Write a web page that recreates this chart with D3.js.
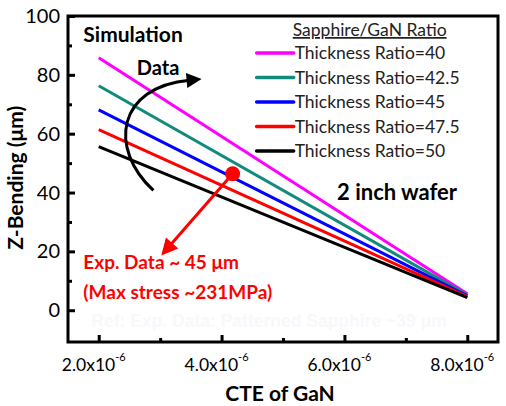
<!DOCTYPE html>
<html>
<head>
<meta charset="utf-8">
<script src="https://cdn.jsdelivr.net/npm/d3@7"></script>
<style>
  body { margin: 0; background: #fff; }
  text { font-family: Lato, "Noto Sans", sans-serif; }
</style>
</head>
<body>
<div id="wrapper"></div>
<script>
// data
const ratios = ["Thickness Ratio=40", "Thickness Ratio=42.5", "Thickness Ratio=45", "Thickness Ratio=47.5", "Thickness Ratio=50"]
const colors = ["#ff00ff", "#138a7e", "#0000ff", "#ff0000", "#000000"]
const cteValues = [2e-6, 8e-6]
const bendStart = [85.8, 76.3, 68.1, 61.4, 55.6]
const bendEnd = [5.6, 5.2, 4.9, 4.6, 4.3]
const xTicks = [2e-6, 4e-6, 6e-6, 8e-6]
const xTickLabels = ["2.0x10", "4.0x10", "6.0x10", "8.0x10"]
const yTicks = [0, 20, 40, 60, 80, 100]
const expPoint = { x: 4.18e-6, y: 46.4 }

const series = ratios.map((name, i) => ({
  name,
  color: colors[i],
  values: cteValues.map((x, j) => ({ x, y: j === 0 ? bendStart[i] : bendEnd[i] }))
}))

// dimensions
const dimensions = {
  width: 506,
  height: 406,
  margin: { top: 16, right: 8, bottom: 64, left: 68 }
}
dimensions.boundedWidth = dimensions.width - dimensions.margin.left - dimensions.margin.right
dimensions.boundedHeight = dimensions.height - dimensions.margin.top - dimensions.margin.bottom

const svg = d3.select("#wrapper").append("svg")
  .attr("width", dimensions.width)
  .attr("height", dimensions.height)

const bounds = svg.append("g")
  .attr("transform", `translate(${dimensions.margin.left},${dimensions.margin.top})`)

// scales
const xScale = d3.scaleLinear()
  .domain([1.5e-6, 8.5e-6])
  .range([0, dimensions.boundedWidth])
const yScale = d3.scaleLinear()
  .domain([-10.8, 100])
  .range([dimensions.boundedHeight, 0])

// faint reference text
bounds.append("text")
  .attr("x", xScale(1.88e-6))
  .attr("y", yScale(-5.8))
  .attr("fill", "#f7f8fb")
  .attr("font-size", 17.5)
  .attr("font-weight", "bold")
  .style("font-family", "Liberation Sans, Arial, sans-serif")
  .text("Ref: Exp. Data: Patterned Sapphire ~39 μm")

// lines
const line = d3.line().x(d => xScale(d.x)).y(d => yScale(d.y))
bounds.selectAll(".series")
  .data(series)
  .join("path")
  .attr("class", "series")
  .attr("d", d => line(d.values))
  .attr("fill", "none")
  .attr("stroke", d => d.color)
  .attr("stroke-width", 3)

// axes with inward ticks
const xAxis = d3.axisBottom(xScale)
  .tickValues(d3.range(2e-6, 8.5e-6, 1e-6))
  .tickSize(-6)
  .tickFormat("")
const xg = bounds.append("g")
  .attr("transform", `translate(0,${dimensions.boundedHeight})`)
  .call(xAxis)
xg.selectAll(".tick line")
  .attr("stroke-width", 3)
  .attr("y2", (d, i) => i % 2 === 0 ? -7 : -4)
xg.select(".domain").remove()

const yAxis = d3.axisLeft(yScale)
  .tickValues(d3.range(0, 101, 10))
  .tickSize(-6)
  .tickFormat("")
const yg = bounds.append("g").call(yAxis)
yg.selectAll(".tick line")
  .attr("stroke-width", 3)
  .attr("x2", (d, i) => i % 2 === 0 ? 7 : 4)
yg.select(".domain").remove()

// frame
bounds.append("rect")
  .attr("width", dimensions.boundedWidth)
  .attr("height", dimensions.boundedHeight)
  .attr("fill", "none")
  .attr("stroke", "#000")
  .attr("stroke-width", 3)

// tick labels
bounds.selectAll(".ylab")
  .data(yTicks)
  .join("text")
  .attr("class", "ylab")
  .attr("x", -8)
  .attr("y", d => yScale(d))
  .attr("dy", "0.35em")
  .attr("text-anchor", "end")
  .attr("font-size", 20)
  .text(d => d)

const xl = bounds.selectAll(".xlab")
  .data(xTicks)
  .join("text")
  .attr("class", "xlab")
  .attr("x", d => xScale(d) - 5)
  .attr("y", dimensions.boundedHeight + 29)
  .attr("text-anchor", "middle")
  .attr("font-size", 17.5)
xl.append("tspan").text((d, i) => xTickLabels[i])
xl.append("tspan")
  .attr("dy", -10)
  .attr("font-size", 11)
  .text("-6")

// axis titles
bounds.append("text")
  .attr("x", dimensions.boundedWidth / 2 - 3)
  .attr("y", dimensions.boundedHeight + 59)
  .attr("text-anchor", "middle")
  .attr("font-size", 21)
  .attr("font-weight", "bold")
  .text("CTE of GaN")

bounds.append("text")
  .attr("transform", `translate(-45,${yScale(45)}) rotate(-90)`)
  .attr("text-anchor", "middle")
  .attr("font-size", 21)
  .attr("font-weight", "bold")
  .text("Z-Bending (μm)")

// legend
const legend = bounds.append("g")
  .attr("transform", `translate(${xScale(4.62e-6)},0)`)
legend.append("text")
  .attr("x", 110)
  .attr("y", 20)
  .attr("text-anchor", "middle")
  .attr("font-size", 17.5)
  .attr("fill", "#222")
  .attr("text-decoration", "underline")
  .text("Sapphire/GaN Ratio")
const items = legend.selectAll(".item")
  .data(series)
  .join("g")
  .attr("class", "item")
  .attr("transform", (d, i) => `translate(0,${37 + i * 24.5})`)
items.append("line")
  .attr("x1", -3).attr("x2", 34)
  .attr("stroke", d => d.color)
  .attr("stroke-width", 3.5)
  .attr("stroke-linecap", "round")
items.append("text")
  .attr("x", 35)
  .attr("dy", "0.35em")
  .attr("font-size", 17.5)
  .attr("fill", "#222")
  .text(d => d.name)

// annotations
bounds.append("text")
  .attr("x", xScale(1.75e-6))
  .attr("y", yScale(91))
  .attr("font-size", 21)
  .attr("font-weight", "bold")
  .text("Simulation")
bounds.append("text")
  .attr("x", xScale(2.62e-6))
  .attr("y", yScale(80))
  .attr("font-size", 20)
  .attr("font-weight", "bold")
  .text("Data")
bounds.append("text")
  .attr("x", xScale(5.88e-6))
  .attr("y", yScale(37.5))
  .attr("font-size", 22)
  .attr("font-weight", "bold")
  .text("2 inch wafer")

bounds.append("text")
  .attr("x", xScale(1.75e-6))
  .attr("y", yScale(14))
  .attr("font-size", 19)
  .attr("font-weight", "bold")
  .attr("fill", "#ff0000")
  .text("Exp. Data ~ 45 μm")
bounds.append("text")
  .attr("x", xScale(1.75e-6))
  .attr("y", yScale(3.8))
  .attr("font-size", 19)
  .attr("font-weight", "bold")
  .attr("fill", "#ff0000")
  .text("(Max stress ~231MPa)")

// arrow markers
const defs = svg.append("defs")
defs.append("marker")
  .attr("id", "headBlack")
  .attr("viewBox", "0 -5 10 10")
  .attr("refX", 2).attr("refY", 0)
  .attr("markerWidth", 6).attr("markerHeight", 5)
  .attr("orient", "auto")
  .append("path").attr("d", "M0,-5L10,0L0,5Z").attr("fill", "#000")
defs.append("marker")
  .attr("id", "headRed")
  .attr("viewBox", "0 -5 10 10")
  .attr("refX", 2).attr("refY", 0)
  .attr("markerWidth", 6.5).attr("markerHeight", 5.5)
  .attr("orient", "auto")
  .append("path").attr("d", "M0,-5L10,0L0,5Z").attr("fill", "#ff0000")

const curve = [
  [2.89e-6, 40.7], [2.15e-6, 55], [2.3e-6, 76], [3.48e-6, 78.2]
].map(([x, y]) => [xScale(x), yScale(y)])
bounds.append("path")
  .attr("d", `M${curve[0]}C${curve[1]} ${curve[2]} ${curve[3]}`)
  .attr("fill", "none")
  .attr("stroke", "#000")
  .attr("stroke-width", 3)
  .attr("marker-end", "url(#headBlack)")

bounds.append("line")
  .attr("x1", xScale(expPoint.x))
  .attr("y1", yScale(expPoint.y))
  .attr("x2", xScale(3.16e-6))
  .attr("y2", yScale(22))
  .attr("stroke", "#ff0000")
  .attr("stroke-width", 3)
  .attr("marker-end", "url(#headRed)")

bounds.append("circle")
  .attr("cx", xScale(expPoint.x))
  .attr("cy", yScale(expPoint.y))
  .attr("r", 7.5)
  .attr("fill", "#ff0000")
</script>
</body>
</html>
